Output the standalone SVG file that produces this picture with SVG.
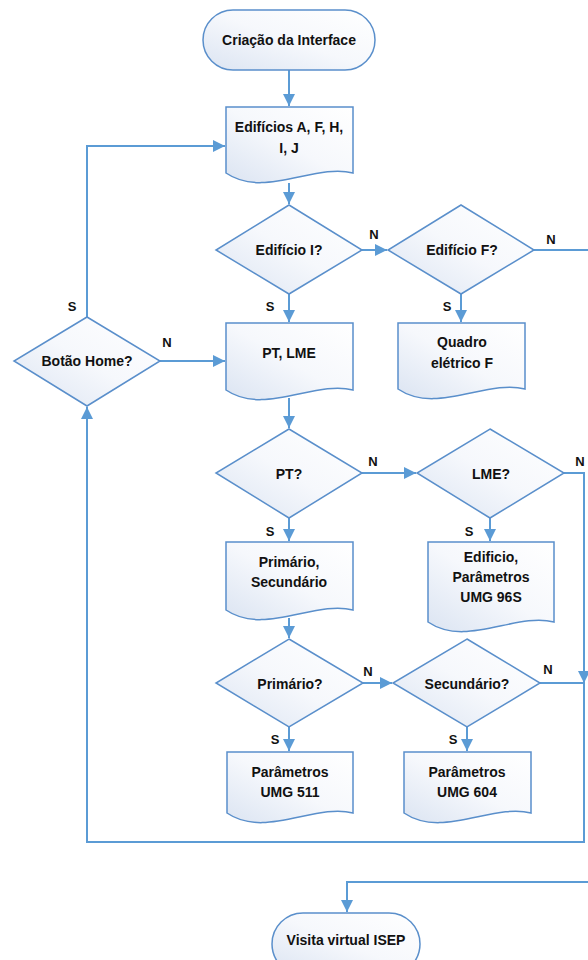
<svg xmlns="http://www.w3.org/2000/svg" width="588" height="960" viewBox="0 0 588 960">
<defs>
<linearGradient id="g" x1="1" y1="0" x2="0" y2="1">
<stop offset="0" stop-color="#ffffff"/>
<stop offset="0.5" stop-color="#f6f8fc"/>
<stop offset="1" stop-color="#dbe4f2"/>
</linearGradient>
<marker id="ah" markerUnits="userSpaceOnUse" markerWidth="13" markerHeight="12" refX="12" refY="6" orient="auto">
<path d="M0,0 L12,6 L0,12 z" fill="#5b9bd5"/>
</marker>
<style>
.s{fill:url(#g);stroke:#5a8fcb;stroke-width:1.5}
.c{fill:none;stroke:#5b9bd5;stroke-width:2}
.t{font-family:"Liberation Sans",Arial,sans-serif;font-weight:bold;font-size:14px;fill:#111;text-anchor:middle}
.l{font-family:"Liberation Sans",Arial,sans-serif;font-weight:bold;font-size:13px;fill:#111;text-anchor:middle}
</style>
</defs>
<rect width="588" height="960" fill="#ffffff"/>
<g id="connectors">
<path class="c" d="M289,70 V106" marker-end="url(#ah)"/>
<path class="c" d="M289,183 V204" marker-end="url(#ah)"/>
<path class="c" d="M362,250 H387" marker-end="url(#ah)"/>
<path class="c" d="M534,250 H600 V882 H347 V912" marker-end="url(#ah)"/>
<path class="c" d="M289,294 V322" marker-end="url(#ah)"/>
<path class="c" d="M461,294 V322" marker-end="url(#ah)"/>
<path class="c" d="M160,361 H225" marker-end="url(#ah)"/>
<path class="c" d="M87,317 V146 H225" marker-end="url(#ah)"/>
<path class="c" d="M289,398 V428" marker-end="url(#ah)"/>
<path class="c" d="M362,473 H416" marker-end="url(#ah)"/>
<path class="c" d="M564,473 H584 V683" marker-end="url(#ah)"/>
<path class="c" d="M289,518 V541" marker-end="url(#ah)"/>
<path class="c" d="M490,518 V541" marker-end="url(#ah)"/>
<path class="c" d="M289,618 V638" marker-end="url(#ah)"/>
<path class="c" d="M363,683 H392" marker-end="url(#ah)"/>
<path class="c" d="M540,683 H584 V842 H87 V407" marker-end="url(#ah)"/>
<path class="c" d="M289,727 V751" marker-end="url(#ah)"/>
<path class="c" d="M467,727 V751" marker-end="url(#ah)"/>
<text class="l" x="374" y="239">N</text>
<text class="l" x="551" y="244">N</text>
<text class="l" x="270" y="311">S</text>
<text class="l" x="447" y="311">S</text>
<text class="l" x="72" y="311">S</text>
<text class="l" x="167" y="347">N</text>
<text class="l" x="373" y="466">N</text>
<text class="l" x="580" y="466">N</text>
<text class="l" x="270" y="536">S</text>
<text class="l" x="469" y="536">S</text>
<text class="l" x="368" y="676">N</text>
<text class="l" x="548" y="674">N</text>
<text class="l" x="275" y="744">S</text>
<text class="l" x="453" y="744">S</text>
</g>
<g id="start">
<rect class="s" x="203" y="10" width="172" height="60" rx="30"/>
<text class="t" x="289" y="45">Criação da Interface</text>
</g>
<g id="edificios">
<path class="s" d="M226,107 H353 V173 C315,163 264,199 226,173 Z"/>
<text class="t" x="289" y="132">Edifícios A, F, H,</text>
<text class="t" x="289" y="153">I, J</text>
</g>
<g id="edificio-i">
<path class="s" d="M289,205 L362,250 L289,294 L216,250 Z"/>
<text class="t" x="289" y="255">Edifício I?</text>
</g>
<g id="edificio-f">
<path class="s" d="M461,205 L534,250 L461,294 L388,250 Z"/>
<text class="t" x="462" y="255">Edifício F?</text>
</g>
<g id="pt-lme">
<path class="s" d="M226,323 H353 V390 C315,380 264,416 226,390 Z"/>
<text class="t" x="289" y="358">PT, LME</text>
</g>
<g id="quadro">
<path class="s" d="M398,323 H525 V389 C487,379 436,415 398,389 Z"/>
<text class="t" x="462" y="347">Quadro</text>
<text class="t" x="462" y="368">elétrico F</text>
</g>
<g id="botao-home">
<path class="s" d="M87,317 L160,361 L87,406 L14,361 Z"/>
<text class="t" x="87" y="366">Botão Home?</text>
</g>
<g id="pt">
<path class="s" d="M289,429 L362,473 L289,518 L216,473 Z"/>
<text class="t" x="289" y="479">PT?</text>
</g>
<g id="lme">
<path class="s" d="M490,429 L564,473 L490,518 L417,473 Z"/>
<text class="t" x="491" y="479">LME?</text>
</g>
<g id="primario-secundario">
<path class="s" d="M226,542 H353 V610 C315,600 264,636 226,610 Z"/>
<text class="t" x="289" y="567">Primário,</text>
<text class="t" x="289" y="587">Secundário</text>
</g>
<g id="edificio-umg96s">
<path class="s" d="M428,542 H554 V622 C516,612 466,648 428,622 Z"/>
<text class="t" x="491" y="562">Edificio,</text>
<text class="t" x="491" y="582">Parâmetros</text>
<text class="t" x="491" y="602">UMG 96S</text>
</g>
<g id="primario">
<path class="s" d="M289,639 L363,683 L289,727 L216,683 Z"/>
<text class="t" x="290" y="689">Primário?</text>
</g>
<g id="secundario">
<path class="s" d="M467,639 L540,683 L467,727 L393,683 Z"/>
<text class="t" x="467" y="689">Secundário?</text>
</g>
<g id="umg511">
<path class="s" d="M227,752 H353 V813 C315,803 265,839 227,813 Z"/>
<text class="t" x="290" y="777">Parâmetros</text>
<text class="t" x="290" y="797">UMG 511</text>
</g>
<g id="umg604">
<path class="s" d="M404,752 H531 V813 C493,803 442,839 404,813 Z"/>
<text class="t" x="467" y="777">Parâmetros</text>
<text class="t" x="467" y="797">UMG 604</text>
</g>
<g id="visita">
<rect class="s" x="272" y="913" width="148" height="62" rx="31"/>
<text class="t" x="346" y="945">Visita virtual ISEP</text>
</g>
</svg>
